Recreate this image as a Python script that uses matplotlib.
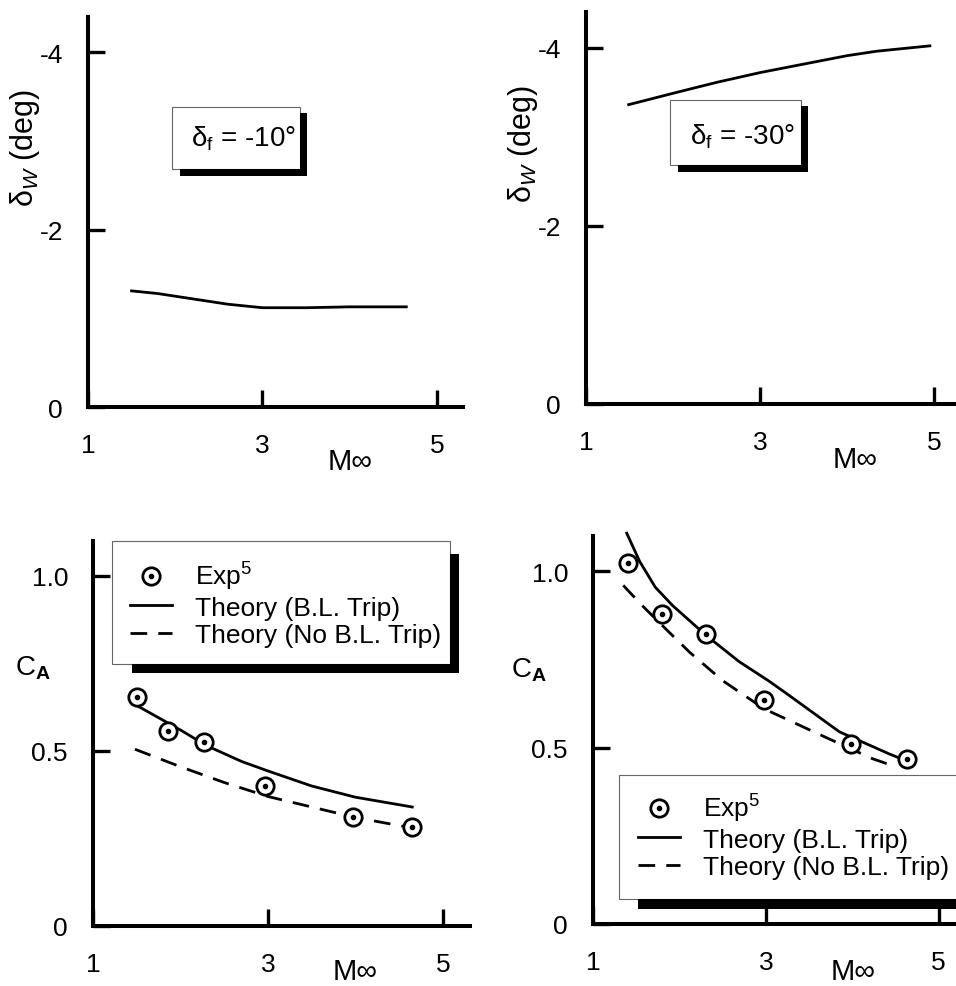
import matplotlib
matplotlib.use("Agg")
import matplotlib.pyplot as plt
from matplotlib.patches import Rectangle
from matplotlib.legend_handler import HandlerTuple

plt.rcParams['font.family'] = ['Liberation Sans', 'DejaVu Sans']
plt.rcParams['mathtext.fontset'] = 'custom'
plt.rcParams['mathtext.rm'] = 'Liberation Sans'
plt.rcParams['mathtext.it'] = 'Liberation Sans:italic'
plt.rcParams['mathtext.bf'] = 'Liberation Sans:bold'
plt.rcParams['axes.unicode_minus'] = False

W, H = 956, 987

# wing deflection, flap at -10 deg
mach_dw10 = [1.5, 1.8, 2.2, 2.6, 3.0, 3.5, 4.0, 4.65]
dw_10 = [-1.31, -1.28, -1.22, -1.16, -1.12, -1.12, -1.13, -1.13]

# wing deflection, flap at -30 deg
mach_dw30 = [1.49, 2.05, 2.5, 3.0, 3.42, 4.0, 4.34, 4.95]
dw_30 = [-3.36, -3.50, -3.61, -3.72, -3.80, -3.91, -3.96, -4.02]

# axial force, left panel
exp_mach_a = [1.50, 1.86, 2.27, 2.97, 3.97, 4.65]
exp_ca_a = [0.654, 0.557, 0.526, 0.40, 0.311, 0.283]
trip_mach_a = [1.5, 2.0, 2.3, 2.7, 3.0, 3.5, 4.0, 4.65]
trip_ca_a = [0.63, 0.56, 0.515, 0.47, 0.443, 0.40, 0.368, 0.34]
notrip_mach_a = [1.48, 2.0, 2.5, 3.0, 3.5, 4.0, 4.65]
notrip_ca_a = [0.505, 0.455, 0.41, 0.37, 0.34, 0.31, 0.28]

# axial force, right panel
exp_mach_b = [1.40, 1.80, 2.31, 2.98, 3.99, 4.63]
exp_ca_b = [1.023, 0.878, 0.821, 0.634, 0.509, 0.469]
trip_mach_b = [1.39, 1.54, 1.72, 1.92, 2.31, 2.69, 3.04, 3.27, 3.85, 4.42, 4.6]
trip_ca_b = [1.108, 1.028, 0.955, 0.903, 0.818, 0.744, 0.688, 0.648, 0.545, 0.483, 0.465]
notrip_mach_b = [1.35, 1.58, 1.89, 2.12, 2.5, 2.98, 3.65, 4.23, 4.5]
notrip_ca_b = [0.96, 0.90, 0.825, 0.77, 0.69, 0.61, 0.534, 0.469, 0.446]

mach_ticks = [1, 3, 5]
mach_ticklabels = ['1', '3', '5']
dw_ticks = [0, -2, -4]
dw_ticklabels = ['0', '-2', '-4']
ca_ticks = [0, 0.5, 1.0]
ca_ticklabels = ['0', '0.5', '1.0']

legend_labels = ['Exp$^{5}$', 'Theory (B.L. Trip)', 'Theory (No B.L. Trip)']

fig = plt.figure(figsize=(W / 100, H / 100), dpi=100)


def fx(x):
    return x / W


def fy(y):
    return 1 - y / H


def add_panel(left, right, top, bottom):
    ax = fig.add_axes([fx(left), fy(bottom), (right - left) / W, (bottom - top) / H])
    for s in ['top', 'right']:
        ax.spines[s].set_visible(False)
    for s in ['left', 'bottom']:
        ax.spines[s].set_linewidth(2.9)
    ax.tick_params(direction='in', length=12, width=2.4, labelsize=19)
    ax.tick_params(axis='x', pad=19)
    ax.tick_params(axis='y', pad=18)
    ax.set_xticks(mach_ticks)
    ax.set_xticklabels(mach_ticklabels)
    ax.patch.set_alpha(0)
    return ax


def rect(x0, y0, x1, y1, **kw):
    r = Rectangle((fx(x0), fy(y1)), (x1 - x0) / W, (y1 - y0) / H,
                  transform=fig.transFigure, **kw)
    fig.add_artist(r)


def shadow_box(x0, y0, x1, y1, bar=7, sx=8, sy=6):
    rect(x0, y0, x1, y1, facecolor='white', edgecolor='0.4', lw=0.8, zorder=3)
    rect(x1, y0 + sy, x1 + bar, y1 + bar, facecolor='black', edgecolor='none', zorder=3)
    rect(x0 + sx, y1, x1 + bar, y1 + bar, facecolor='black', edgecolor='none', zorder=3)


def exp_points(ax, x, y):
    ring, = ax.plot(x, y, 'o', ms=12.5, mfc='white', mec='black', mew=2, ls='none', zorder=4)
    dot, = ax.plot(x, y, 'o', ms=3, color='black', ls='none', zorder=5)
    return (ring, dot)


def add_legend(handles, x, y):
    fig.legend(handles, legend_labels, loc='upper left',
               bbox_to_anchor=(fx(x), fy(y)), bbox_transform=fig.transFigure,
               frameon=False, fontsize=19, borderpad=0, borderaxespad=0,
               handlelength=1.6, handletextpad=0.85, labelspacing=0.13,
               handler_map={tuple: HandlerTuple(ndivide=1, pad=0)})


# ---- top left
ax1 = add_panel(88, 463, 18, 408)
ax1.plot(mach_dw10, dw_10, color='black', lw=2)
ax1.set_xlim(1, 5.3)
ax1.set_ylim(0, -4.4)
ax1.set_yticks(dw_ticks)
ax1.set_yticklabels(dw_ticklabels)
ax1.set_ylabel('δ$_{W}$ (deg)', fontsize=22, va='center')
ax1.yaxis.set_label_coords(fx(25), fy(148), transform=fig.transFigure)
ax1.set_xlabel('M∞', fontsize=21)
ax1.xaxis.set_label_coords(fx(350), fy(448), transform=fig.transFigure)
shadow_box(172, 108, 300, 170)
fig.text(fx(243), fy(139), 'δ$_{\\mathrm{f}}$ = -10°', fontsize=20, ha='center', va='center', zorder=6)

# ---- top right
ax2 = add_panel(586, 956, 13, 405)
ax2.plot(mach_dw30, dw_30, color='black', lw=2)
ax2.set_xlim(1, 5.25)
ax2.set_ylim(0, -4.4)
ax2.set_yticks(dw_ticks)
ax2.set_yticklabels(dw_ticklabels)
ax2.set_ylabel('δ$_{W}$ (deg)', fontsize=22, va='center')
ax2.yaxis.set_label_coords(fx(523), fy(144), transform=fig.transFigure)
ax2.set_xlabel('M∞', fontsize=21)
ax2.xaxis.set_label_coords(fx(855), fy(446), transform=fig.transFigure)
shadow_box(670, 101, 801, 166)
fig.text(fx(742), fy(137), 'δ$_{\\mathrm{f}}$ = -30°', fontsize=20, ha='center', va='center', zorder=6)

# ---- bottom left
ax3 = add_panel(93, 470, 542, 927)
trip3, = ax3.plot(trip_mach_a, trip_ca_a, color='black', lw=2)
notrip3, = ax3.plot(notrip_mach_a, notrip_ca_a, color='black', lw=2, ls=(0, (6, 4)))
exp3 = exp_points(ax3, exp_mach_a, exp_ca_a)
ax3.set_xlim(1, 5.31)
ax3.set_ylim(0, 1.1)
ax3.set_yticks(ca_ticks)
ax3.set_yticklabels(ca_ticklabels)
ax3.set_ylabel('C$_{\\mathbf{A}}$', fontsize=20, rotation=0, ha='left', va='center')
ax3.yaxis.set_label_coords(fx(15), fy(668), transform=fig.transFigure)
ax3.set_xlabel('M∞', fontsize=21, va='bottom')
ax3.xaxis.set_label_coords(fx(355), fy(986), transform=fig.transFigure)
shadow_box(112, 542, 450, 665, bar=9, sx=20, sy=13)
add_legend([exp3, trip3, notrip3], 130, 561)

# ---- bottom right
ax4 = add_panel(593, 956, 537, 925)
trip4, = ax4.plot(trip_mach_b, trip_ca_b, color='black', lw=2, clip_on=False)
notrip4, = ax4.plot(notrip_mach_b, notrip_ca_b, color='black', lw=2, ls=(0, (6, 4)))
exp4 = exp_points(ax4, exp_mach_b, exp_ca_b)
ax4.set_xlim(1, 5.2)
ax4.set_ylim(0, 1.1)
ax4.set_yticks(ca_ticks)
ax4.set_yticklabels(ca_ticklabels)
ax4.set_ylabel('C$_{\\mathbf{A}}$', fontsize=20, rotation=0, ha='left', va='center')
ax4.yaxis.set_label_coords(fx(511), fy(670), transform=fig.transFigure)
ax4.set_xlabel('M∞', fontsize=21, va='bottom')
ax4.xaxis.set_label_coords(fx(853), fy(986), transform=fig.transFigure)
shadow_box(619, 776, 990, 900, bar=10, sx=19, sy=10)
add_legend([exp4, trip4, notrip4], 638, 793)

fig.savefig('out.png', dpi=100)
